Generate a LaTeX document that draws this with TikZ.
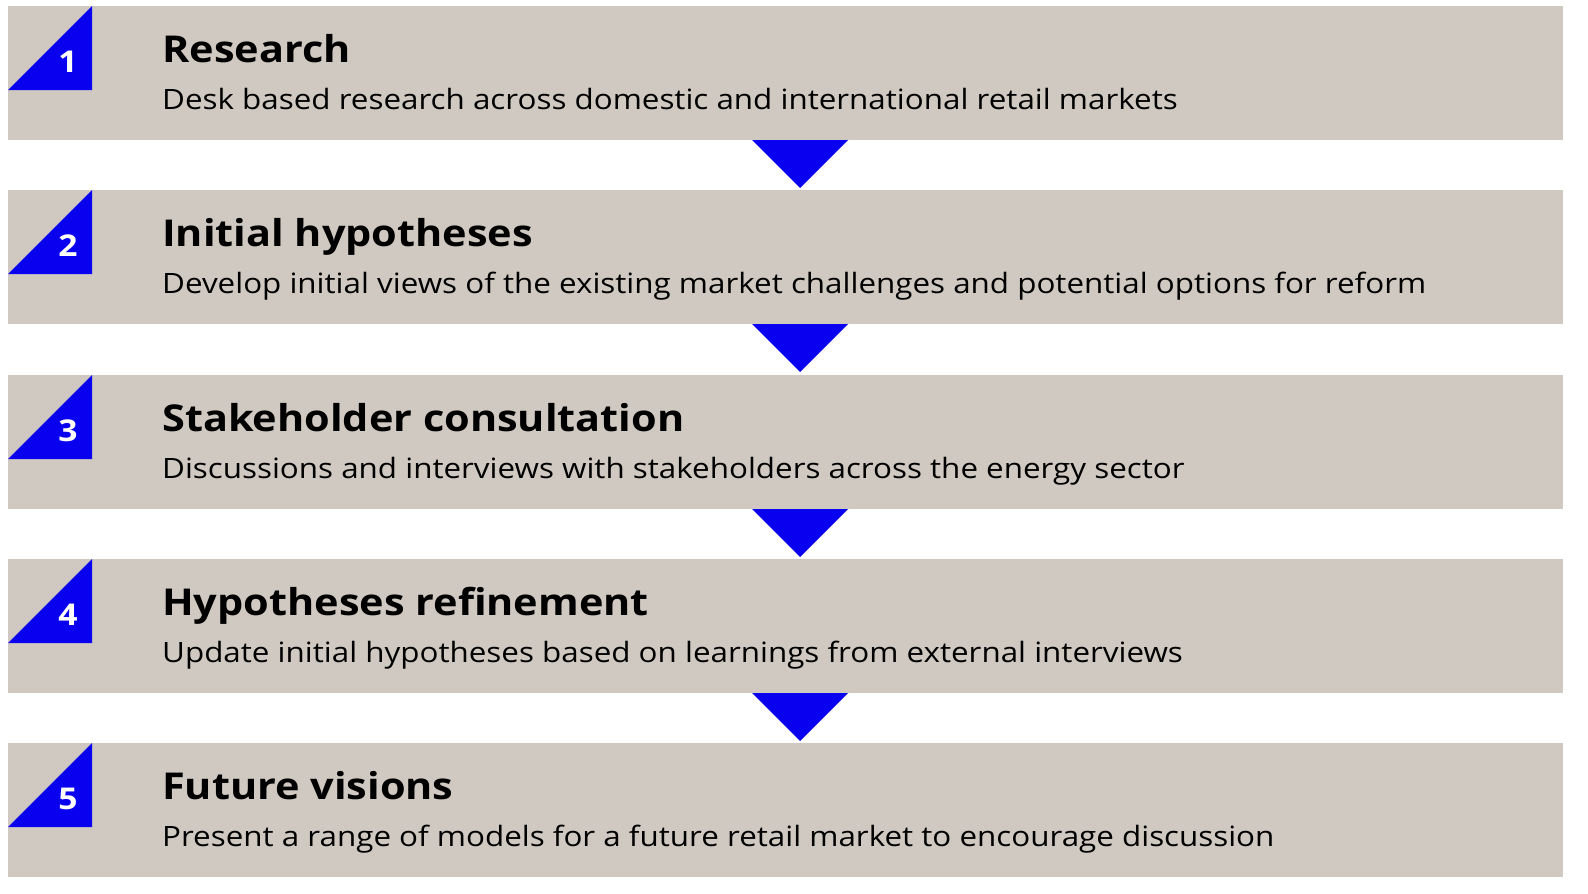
\documentclass[tikz,border=0pt]{standalone}
\usepackage{fontspec}
\setmainfont{Open Sans}[FakeStretch=1.12]
\usetikzlibrary{positioning}
\definecolor{stepgray}{HTML}{D0C9C1}
\definecolor{stepblue}{HTML}{0A00F0}
\tikzset{
  bar/.style={fill=stepgray,draw=none,minimum width=1555pt,minimum height=134pt,inner sep=0pt,anchor=north west},
  title/.style={anchor=base west,inner sep=0pt,font=\fontsize{37}{40}\selectfont\bfseries},
  desc/.style={anchor=base west,inner sep=0pt,font=\fontsize{28}{32}\selectfont},
  num/.style={inner sep=0pt,text=white,font=\fontsize{30}{32}\selectfont\bfseries}
}
\begin{document}
\begin{tikzpicture}[x=1pt,y=-1pt]
\useasboundingbox (0,0) rectangle (1588,894);
\foreach \i/\y/\t/\d in {
  1/6/Research/Desk based research across domestic and international retail markets,
  2/190/Initial hypotheses/Develop initial views of the existing market challenges and potential options for reform,
  3/375/Stakeholder consultation/Discussions and interviews with stakeholders across the energy sector,
  4/559/Hypotheses refinement/Update initial hypotheses based on learnings from external interviews,
  5/743/Future visions/Present a range of models for a future retail market to encourage discussion}
{
  \node[bar] (bar\i) at (8,\y) {};
  \fill[stepblue] (8,\y+84) -- (92,\y) -- (92,\y+84) -- cycle;
  \node[num] (num\i) at (68,\y+56) {\i};
  \node[title] (title\i) at (162,\y+56) {\t};
  \node[desc] (desc\i) at (162,\y+103) {\d};
}
% arrows between steps
\foreach \y in {140,324,509,693}
  \fill[stepblue] (752,\y) -- (848,\y) -- (800,\y+48) -- cycle;
\end{tikzpicture}
\end{document}
